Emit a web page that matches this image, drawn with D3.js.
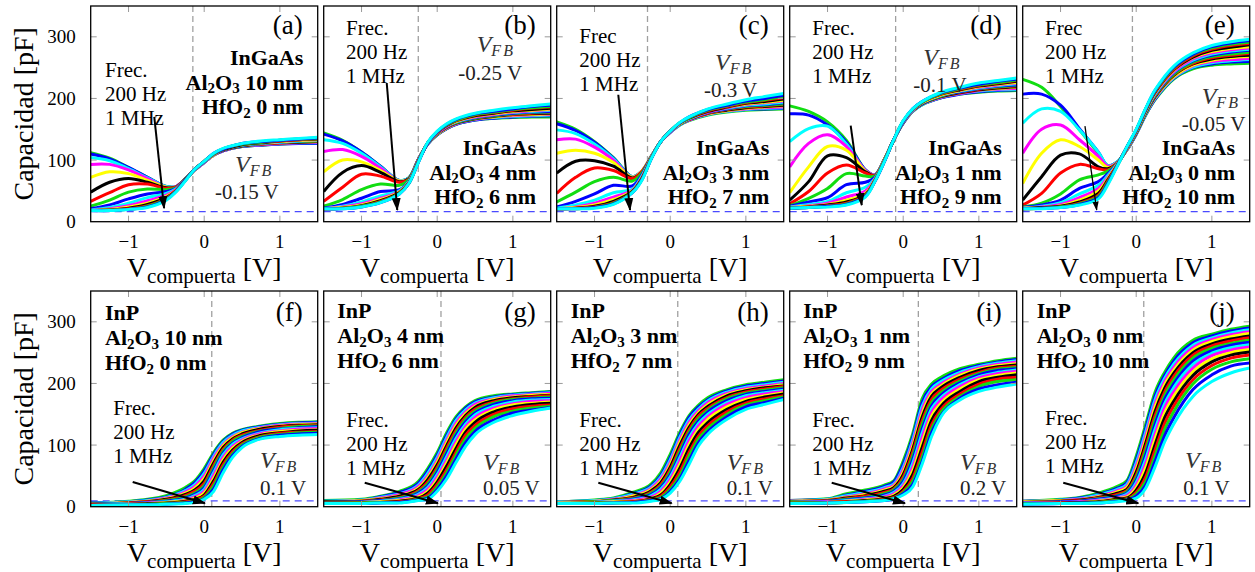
<!DOCTYPE html>
<html>
<head>
<meta charset="utf-8">
<script src="https://cdn.jsdelivr.net/npm/d3@7"></script>
<style>
  body { margin: 0; background: #fff; }
  svg { display: block; font-family: "Liberation Serif", "Times New Roman", serif; }
</style>
</head>
<body>
<svg id="chart" width="1255" height="572"></svg>
<script>
// Gate-voltage sample points (V) for the two substrate rows
const vTop = [-1.5, -1.25, -1, -0.75, -0.5, -0.375, -0.25, -0.125, 0, 0.125, 0.25, 0.5, 0.75, 1, 1.25, 1.5];
const vBottom = [-1.5, -1, -0.75, -0.5, -0.25, -0.125, 0, 0.125, 0.25, 0.375, 0.5, 0.75, 1, 1.25, 1.5];

// Sweep colours, one per frequency, cycling from 200 Hz up to 1 MHz
const sweepColors = ["#11dd11", "#0000ff", "#00ffff", "#ff00ff", "#ffff00", "#000000", "#ff0000"];

// Capacitance (pF), one row per measurement frequency (200 Hz first)
const capA = [
  [112,103,88,72,57,57,69,84,96,108,115,122,124,126,127,128],
  [110,102,88,72,57,57,69,84,96,108,115,122,124,126,127,127],
  [104,99,86,71,57,57,69,84,96,108,115,123,125,127,128,128],
  [93,93,84,70,56,57,69,84,96,108,115,123,125,127,128,129],
  [72,81,78,67,56,56,69,84,97,108,116,123,126,128,129,130],
  [48,64,70,64,55,56,69,85,97,109,116,123,126,128,129,130],
  [33,47,60,61,54,56,69,85,97,109,116,124,126,128,130,131],
  [25,35,48,53,52,55,69,85,97,109,116,124,127,129,130,131],
  [21,27,37,45,49,54,69,85,97,109,116,124,127,129,131,132],
  [19,23,30,39,46,53,68,85,97,109,117,124,127,129,131,132],
  [18,21,26,34,43,52,68,85,97,109,117,125,128,130,132,133],
  [18,20,24,30,41,51,68,85,98,110,117,125,128,130,132,133],
  [18,19,22,28,39,50,68,85,98,110,117,125,128,131,133,134],
  [18,19,21,26,38,50,67,85,98,110,118,126,129,131,133,135],
  [18,19,20,25,37,49,67,85,98,110,118,126,129,132,134,135],
  [18,18,20,24,36,49,67,85,98,111,118,127,130,132,134,136],
  [18,18,20,23,35,48,66,85,98,111,119,127,131,133,135,137]
];
const capB = [
  [144,132,113,90,67,71,101,126,141,151,158,165,168,169,170,170],
  [142,131,113,90,67,71,101,126,141,151,158,165,168,170,171,172],
  [133,127,111,89,67,71,101,126,142,152,159,166,169,171,172,173],
  [114,117,106,87,66,70,101,126,142,152,159,166,170,172,173,174],
  [81,100,97,83,66,70,101,127,142,152,160,167,170,173,174,175],
  [49,80,91,80,65,70,100,127,143,153,160,167,171,174,175,176],
  [33,56,77,74,64,69,100,127,143,153,161,168,172,174,176,177],
  [25,36,52,61,59,68,100,127,143,154,161,168,172,175,177,178],
  [22,28,38,49,52,66,100,127,144,154,162,169,173,176,178,179],
  [21,25,32,42,50,65,99,127,144,155,162,170,174,177,179,181],
  [21,24,29,38,49,64,99,128,144,155,163,170,174,178,180,182],
  [21,23,27,36,48,64,98,128,145,156,163,171,175,179,181,183],
  [21,22,26,34,47,63,98,128,145,156,164,172,176,180,182,184],
  [21,22,25,33,46,63,97,128,145,157,164,173,177,181,184,186],
  [21,22,25,32,46,62,97,128,146,157,165,174,178,182,185,187],
  [21,21,24,31,45,62,96,128,146,158,166,175,179,183,187,189],
  [21,21,24,31,45,62,96,129,147,159,167,176,181,185,188,191]
];
const capC = [
  [162,150,130,104,73,82,106,130,145,157,164,173,178,181,182,183],
  [159,148,129,103,73,82,106,130,145,157,165,174,179,182,183,184],
  [149,143,126,102,73,82,106,130,145,157,165,174,179,182,184,185],
  [133,134,121,100,72,82,106,130,145,158,165,175,180,183,185,186],
  [111,116,111,96,72,82,106,130,146,158,166,175,180,184,186,188],
  [79,98,99,90,71,81,105,130,146,158,166,176,181,185,187,189],
  [46,72,87,83,70,81,105,130,146,158,166,176,182,186,188,190],
  [32,48,65,72,66,79,105,130,146,158,167,177,183,187,189,191],
  [24,33,45,59,58,76,105,130,146,159,167,177,183,188,190,193],
  [22,27,35,47,53,74,104,130,146,159,167,178,184,189,191,194],
  [21,24,30,40,51,72,104,130,146,159,168,178,185,190,193,196],
  [21,23,27,36,50,71,104,130,147,159,168,179,186,191,194,197],
  [21,22,25,33,49,70,103,130,147,160,168,179,186,192,195,199],
  [21,22,24,31,48,69,103,130,147,160,169,180,187,193,197,201],
  [21,21,23,30,48,68,103,130,147,160,169,181,188,194,198,203],
  [21,21,23,29,47,68,102,130,147,160,170,182,189,196,200,205],
  [21,21,22,28,47,67,102,130,147,161,170,183,191,198,203,208]
];
const capD = [
  [188,179,162,132,84,76,101,133,160,179,190,201,207,210,212,213],
  [175,173,157,129,84,76,101,133,160,179,190,201,207,211,213,214],
  [130,151,155,126,83,76,101,133,161,179,190,202,208,212,214,215],
  [89,127,141,122,83,76,101,133,161,180,191,202,208,213,215,216],
  [47,89,122,116,82,75,101,133,161,180,191,203,209,214,216,218],
  [35,65,107,104,81,75,100,133,161,180,191,203,209,214,217,219],
  [29,49,79,92,79,75,100,133,162,180,192,204,210,215,218,220],
  [26,38,54,78,74,74,100,133,162,181,192,204,211,216,219,221],
  [25,32,39,60,64,72,100,133,162,181,192,205,211,216,220,222],
  [24,28,33,47,56,70,99,133,162,181,193,205,212,217,221,224],
  [23,26,30,40,50,69,99,133,162,181,193,206,213,218,222,225],
  [23,25,28,35,46,68,99,133,163,182,193,206,213,219,223,226],
  [22,24,27,32,44,67,98,133,163,182,194,207,214,220,224,228],
  [22,24,26,30,43,66,98,133,163,182,194,207,215,221,225,229],
  [22,23,25,29,42,66,98,133,163,182,194,208,216,222,226,230],
  [22,23,25,28,41,65,97,133,163,183,195,209,217,223,228,231],
  [22,23,24,27,40,65,97,133,164,183,195,210,218,225,229,233]
];
const capE = [
  [231,218,187,149,111,91,97,116,142,173,198,232,248,254,256,257],
  [207,207,189,151,113,91,97,116,142,173,199,233,250,256,259,260],
  [160,183,179,149,113,91,97,117,143,174,200,234,251,258,261,263],
  [111,150,157,133,106,90,96,117,143,175,201,235,253,260,263,265],
  [62,111,133,122,100,88,96,117,144,175,202,236,254,262,266,268],
  [35,73,108,110,89,86,95,118,144,176,203,238,256,264,268,270],
  [27,46,79,93,86,84,95,118,145,177,204,239,257,266,270,273],
  [24,30,45,68,76,82,94,118,145,177,205,240,259,268,272,275],
  [23,27,35,54,65,78,94,119,146,178,206,242,261,270,275,278],
  [22,25,31,45,59,75,94,119,146,179,207,243,262,272,277,280],
  [22,24,28,39,54,72,93,119,147,180,208,244,264,274,279,282],
  [22,23,26,35,50,70,93,120,147,180,209,246,266,276,281,284],
  [21,23,25,32,46,68,92,120,148,181,210,247,267,278,283,287],
  [21,22,24,30,43,66,92,120,148,182,211,248,269,280,286,289],
  [21,22,24,29,41,64,91,121,149,183,212,250,271,282,288,291],
  [21,22,23,28,39,62,91,121,149,183,213,251,272,284,290,294],
  [21,21,23,27,37,60,90,121,150,184,214,253,274,286,292,296]
];
const capF = [
  [6,9,12,18,31,42,62,88,108,119,125,131,135,137,138],
  [6,8,11,16,28,39,58,85,106,118,124,130,134,136,137],
  [5,8,10,15,26,36,54,82,104,116,123,129,133,135,136],
  [5,7,9,14,24,33,50,79,101,114,121,128,132,134,135],
  [5,7,9,13,22,30,46,75,99,112,120,127,131,133,134],
  [4,6,8,12,20,27,42,71,96,110,118,126,130,132,133],
  [4,6,8,11,18,25,38,67,93,108,116,124,129,131,132],
  [4,5,7,10,16,22,34,63,90,106,114,123,127,130,131],
  [4,5,7,9,14,20,31,59,87,103,112,122,126,128,130],
  [3,5,6,8,12,18,28,55,84,101,110,120,125,127,128],
  [3,4,6,7,11,16,25,51,80,98,108,119,123,126,127],
  [3,4,5,7,10,14,22,46,76,95,106,117,122,124,125],
  [3,4,5,6,9,12,19,42,72,92,104,116,120,123,124],
  [3,4,4,5,8,11,17,38,68,89,102,114,119,121,122],
  [2,3,4,5,7,9,15,34,64,86,100,113,117,120,121],
  [2,3,3,4,6,8,13,29,60,83,98,111,116,118,119],
  [2,3,3,4,5,7,12,25,55,80,96,110,114,116,117]
];
const capG = [
  [10,12,17,25,41,62,88,120,146,162,172,180,183,185,187],
  [9,11,16,23,38,58,84,116,143,160,170,178,182,184,186],
  [9,11,15,21,35,54,80,112,140,157,168,177,181,183,185],
  [8,10,14,20,33,50,76,108,136,154,166,175,180,182,184],
  [8,10,13,18,30,47,72,104,132,151,163,174,178,181,182],
  [8,9,12,17,28,44,68,99,128,148,161,172,177,179,181],
  [7,9,11,15,26,40,64,95,124,145,158,170,175,178,180],
  [7,8,10,14,24,37,60,90,120,142,155,168,174,176,178],
  [7,8,10,13,22,34,56,86,116,138,152,166,172,175,176],
  [6,7,9,12,20,31,52,81,111,134,149,163,170,173,174],
  [6,7,8,11,18,28,48,76,106,130,145,160,167,171,172],
  [6,7,8,10,16,25,44,71,101,126,141,157,165,168,170],
  [6,6,7,9,14,22,40,66,95,121,137,154,162,166,168],
  [5,6,7,8,13,19,36,60,89,116,132,150,159,163,165],
  [5,6,7,7,12,16,32,55,84,110,127,146,155,160,163],
  [5,5,6,7,11,14,28,50,78,104,122,141,152,157,161],
  [5,5,6,6,10,12,25,45,72,98,117,137,148,155,160]
];
const capH = [
  [8,11,14,23,37,55,85,120,148,165,177,190,198,202,206],
  [8,10,13,21,34,51,80,116,145,162,174,188,196,200,204],
  [8,10,13,20,32,48,76,112,141,159,172,186,194,198,202],
  [7,9,12,18,30,45,72,108,137,156,169,184,192,196,200],
  [7,9,11,17,28,42,68,104,133,153,166,182,190,194,198],
  [7,8,11,15,26,39,64,99,129,150,163,180,188,193,196],
  [7,8,10,14,24,36,60,94,125,147,160,177,186,191,195],
  [6,8,10,13,22,33,56,89,121,143,157,175,184,189,193],
  [6,7,9,12,20,31,52,84,117,139,154,172,182,187,191],
  [6,7,9,11,18,28,48,79,112,135,150,169,180,185,189],
  [6,7,8,10,16,25,44,74,107,131,146,166,177,183,187],
  [6,6,8,9,14,22,40,68,101,126,142,162,174,180,185],
  [5,6,7,8,13,19,36,62,95,121,137,158,171,178,183],
  [5,6,7,8,12,17,32,56,88,115,132,154,168,175,180],
  [5,6,6,7,11,15,28,50,82,110,127,150,165,172,178],
  [5,5,6,7,10,13,25,45,75,104,122,146,162,169,176],
  [5,5,6,6,9,12,22,41,69,99,118,142,158,166,174]
];
const capI = [
  [10,13,21,27,35,42,74,118,175,199,210,224,231,237,241],
  [10,12,19,25,33,40,69,113,169,195,206,221,229,235,239],
  [9,12,18,23,31,37,64,108,163,191,203,218,227,233,237],
  [9,11,16,21,29,35,60,103,157,187,199,215,225,231,235],
  [9,11,15,20,27,33,56,98,151,183,196,213,223,229,232],
  [8,10,14,18,25,31,52,93,145,179,193,210,221,227,230],
  [8,10,13,17,23,29,48,88,139,174,189,207,218,225,228],
  [8,9,12,15,21,27,44,82,133,169,185,204,216,223,226],
  [7,9,11,14,19,25,41,76,126,164,181,201,214,221,224],
  [7,8,10,13,17,23,37,70,119,159,177,198,211,218,222],
  [7,8,9,12,16,21,34,64,112,153,173,195,209,216,220],
  [6,7,9,11,14,19,31,58,104,147,168,191,206,213,217],
  [6,7,8,10,13,17,28,52,96,140,163,187,203,210,214],
  [6,7,8,9,12,15,25,46,88,133,158,183,199,207,210],
  [6,6,7,9,11,14,23,41,80,126,153,179,195,203,206],
  [5,6,7,8,10,13,21,36,73,120,148,176,191,198,202],
  [5,6,7,8,10,13,19,32,69,114,146,173,187,194,199]
];
const capJ = [
  [9,12,15,22,33,42,82,133,186,218,242,270,280,288,293],
  [9,11,14,20,30,39,76,127,180,213,237,266,277,285,290],
  [8,11,13,19,28,36,71,121,174,208,232,262,274,282,287],
  [8,10,12,17,26,33,66,115,168,203,227,258,271,279,284],
  [8,10,11,16,24,31,61,109,162,198,222,254,268,276,281],
  [7,9,11,15,22,28,56,103,155,192,217,250,264,272,277],
  [7,9,10,14,20,26,51,97,148,186,212,246,261,269,274],
  [7,8,9,13,18,24,47,91,141,180,206,241,257,265,270],
  [6,8,9,12,17,22,43,84,134,174,200,236,253,262,267],
  [6,7,8,11,15,20,39,77,126,167,194,231,249,258,263],
  [6,7,8,10,14,18,35,70,118,160,187,225,245,254,259],
  [5,6,7,9,13,16,31,63,110,152,180,219,240,250,255],
  [5,6,7,8,12,14,27,55,101,144,172,213,235,246,251],
  [5,6,6,7,11,13,23,48,92,135,164,206,229,241,246],
  [5,5,6,7,10,12,20,41,83,125,155,199,223,235,240],
  [4,5,6,6,9,11,17,35,74,115,145,190,214,228,233],
  [4,5,5,6,8,10,14,30,65,105,135,179,203,217,225]
];

// Per-panel stack description and flat-band voltage
const panelTags = ["(a)", "(b)", "(c)", "(d)", "(e)", "(f)", "(g)", "(h)", "(i)", "(j)"];
const substrates = ["InGaAs", "InGaAs", "InGaAs", "InGaAs", "InGaAs", "InP", "InP", "InP", "InP", "InP"];
const al2o3Nm = [10, 4, 3, 1, 0, 10, 4, 3, 1, 0];
const hfo2Nm = [0, 6, 7, 9, 10, 0, 6, 7, 9, 10];
const flatBandV = [-0.15, -0.25, -0.3, -0.1, -0.05, 0.1, 0.05, 0.1, 0.2, 0.1];
const flatBandText = ["-0.15 V", "-0.25 V", "-0.3 V", "-0.1 V", "-0.05 V", "0.1 V", "0.05 V", "0.1 V", "0.2 V", "0.1 V"];
const freqHeads = ["Frec.", "Frec.", "Frec", "Frec.", "Frec", "Frec.", "Frec.", "Frec.", "Frec.", "Frec."];
const freqRange = ["200 Hz", "1 MHz"];
const floorCap = [16.5, 16.5, 16.5, 16.5, 16.5, 9.5, 9.5, 9.5, 9.5, 9.5];
const arrowFrom = [[-0.66,170],[-0.667,225],[-0.686,206],[-0.694,156],[-0.677,155],[-0.945,40],[-0.958,39],[-0.95,39],[-0.945,39],[-0.964,39]];
const arrowTo = [[-0.53,22],[-0.528,19],[-0.531,19],[-0.548,27],[-0.522,19],[0.01,5.5],[0.01,5.5],[0.02,5.5],[0.024,5.5],[0.028,5.5]];
const panelData = [capA, capB, capC, capD, capE, capF, capG, capH, capI, capJ];

const xTicks = [-1, 0, 1];
const yTicks = [0, 100, 200, 300];

// ---- layout (pixels) ----
const W = 227, H = 215.7;
const colLeft = [90.7, 323.7, 556.7, 789.7, 1022.7];
const rowTop = [6, 291];
// text placement inside each panel: [x, firstBaseline]
const freqPos = [[14.3,70.7],[22.3,29],[22.6,37.3],[22.6,29],[22.3,29],[22.6,124],[22.6,135.7],[22.6,135.7],[22.6,135.7],[22.3,134]];
const stackPos = [[212.6,59],[212.3,149],[212.6,149],[212,149],[212.3,149],[14.3,29],[13.6,27.3],[14,27.3],[13.6,27.3],[14,27.3]];
const vfbPos = [[144.3,165.5,124.3,192.5],[153,46,134.6,74],[158.3,64,147.3,91],[133.6,59,123.6,86],[179,98,159,124.5],
                [169.3,177,169.3,204.3],[159.3,178.7,159.3,204.3],[170,178.7,170,204.3],[170.3,178.7,170.3,204.3],[162.3,177,160.6,204.3]];

const svg = d3.select("#chart");
const defs = svg.append("defs");
defs.append("marker").attr("id", "head").attr("viewBox", "0 -5 13 10")
  .attr("refX", 12).attr("refY", 0).attr("markerWidth", 13).attr("markerHeight", 10)
  .attr("markerUnits", "userSpaceOnUse").attr("orient", "auto")
  .append("path").attr("d", "M0,-4.5L13,0L0,4.5Z").attr("fill", "#000");
defs.append("marker").attr("id", "headSmall").attr("viewBox", "0 -5 13 10")
  .attr("refX", 12).attr("refY", 0).attr("markerWidth", 9).attr("markerHeight", 7)
  .attr("markerUnits", "userSpaceOnUse").attr("orient", "auto")
  .append("path").attr("d", "M0,-4.5L13,0L0,4.5Z").attr("fill", "#000");
defs.append("clipPath").attr("id", "plotClip")
  .append("rect").attr("x", 0).attr("y", 0).attr("width", W).attr("height", H);

const x = d3.scaleLinear().domain([-1.5, 1.5]).range([0, W]);
const y = d3.scaleLinear().domain([0, 350]).range([H, 0]);

// text with "_n" numeric subscripts
function richText(sel, str, subSize, shift) {
  const parts = str.split(/(_[0-9]+)/).filter(s => s.length);
  let down = false;
  parts.forEach(p => {
    if (p[0] === "_") {
      sel.append("tspan").attr("dy", down ? 0 : shift).attr("font-size", subSize).text(p.slice(1));
      down = true;
    } else {
      sel.append("tspan").attr("dy", down ? -shift : 0).text(p);
      down = false;
    }
  });
}

panelData.forEach((curves, k) => {
  const row = k < 5 ? 0 : 1, col = k % 5;
  const volts = row === 0 ? vTop : vBottom;
  const g = svg.append("g").attr("transform", `translate(${colLeft[col]},${rowTop[row]})`);
  const plot = g.append("g").attr("clip-path", "url(#plotClip)");

  // flat-band marker and low-frequency floor
  plot.append("line").attr("x1", x(flatBandV[k])).attr("x2", x(flatBandV[k]))
    .attr("y1", 0).attr("y2", H).attr("stroke", "#a0a0a0").attr("stroke-width", 1.3)
    .attr("stroke-dasharray", "6,4");
  plot.append("line").attr("x1", 0).attr("x2", W).attr("y1", y(floorCap[k])).attr("y2", y(floorCap[k]))
    .attr("stroke", "#4a4aff").attr("stroke-width", 1.3).attr("stroke-dasharray", "7,5");

  const curveType = row === 0 ? d3.curveCatmullRom.alpha(0.5) : d3.curveMonotoneX;
  const line = d3.line().x((d, j) => x(volts[j])).y(d => y(d)).curve(curveType);
  plot.selectAll("path.cv").data(curves).join("path").attr("class", "cv")
    .attr("d", line).attr("fill", "none")
    .attr("stroke", (d, i) => sweepColors[i % sweepColors.length])
    .attr("stroke-width", 3).attr("stroke-linejoin", "round");

  // ticks (inside, all four sides)
  const tk = g.append("g").attr("stroke", "#9a9a9a").attr("stroke-width", 1);
  xTicks.forEach(t => {
    tk.append("line").attr("x1", x(t)).attr("x2", x(t)).attr("y1", H).attr("y2", H - 6);
    tk.append("line").attr("x1", x(t)).attr("x2", x(t)).attr("y1", 0).attr("y2", 6);
  });
  yTicks.slice(1).forEach(t => {
    tk.append("line").attr("x1", 0).attr("x2", 6).attr("y1", y(t)).attr("y2", y(t));
    tk.append("line").attr("x1", W - 6).attr("x2", W).attr("y1", y(t)).attr("y2", y(t));
  });

  g.append("rect").attr("width", W).attr("height", H).attr("fill", "none")
    .attr("stroke", "#000").attr("stroke-width", 1.3);

  // tick labels
  xTicks.forEach(t => {
    g.append("text").attr("x", x(t)).attr("y", H + 26.3).attr("text-anchor", "middle")
      .attr("font-size", 19).text(t < 0 ? "\u2212" + Math.abs(t) : String(t));
  });
  if (col === 0) {
    yTicks.forEach(t => {
      g.append("text").attr("x", -15).attr("y", y(t)).attr("dy", "0.35em")
        .attr("text-anchor", "end").attr("font-size", 19).text(t);
    });
    g.append("text").attr("transform", `translate(-58,${H / 2}) rotate(-90)`)
      .attr("text-anchor", "middle").attr("font-size", 28).text("Capacidad [pF]");
  }

  // x-axis title
  const xt = g.append("text").attr("x", W / 2).attr("y", H + 55.3)
    .attr("text-anchor", "middle").attr("font-size", 28);
  xt.append("tspan").text("V");
  xt.append("tspan").attr("font-size", 21).attr("dy", 6).text("compuerta");
  xt.append("tspan").attr("dy", -6).text(" [V]");

  // panel tag
  g.append("text").attr("x", 212).attr("y", row === 0 ? 28 : 30)
    .attr("text-anchor", "end").attr("font-size", 27).text(panelTags[k]);

  // frequency note
  const fp = freqPos[k];
  [freqHeads[k], freqRange[0], freqRange[1]].forEach((s, i) => {
    g.append("text").attr("x", fp[0]).attr("y", fp[1] + i * 24).attr("font-size", 21).text(s);
  });

  // oxide stack
  const sp = stackPos[k];
  const stack = [substrates[k], `Al_2O_3 ${al2o3Nm[k]} nm`, `HfO_2 ${hfo2Nm[k]} nm`];
  stack.forEach((s, i) => {
    const t = g.append("text").attr("x", sp[0]).attr("y", sp[1] + i * (row === 0 ? 24.5 : 25))
      .attr("font-size", 22).attr("font-weight", "bold")
      .attr("text-anchor", row === 0 ? "end" : "start");
    richText(t, s, 15, 3.5);
  });

  // flat-band label
  const vp = vfbPos[k];
  const vt = g.append("text").attr("x", vp[0]).attr("y", vp[1]).attr("font-size", 24)
    .attr("font-style", "italic").attr("fill", "#333");
  vt.append("tspan").text("V");
  vt.append("tspan").attr("font-size", 16).attr("dy", 4).attr("letter-spacing", 2).text("FB");
  g.append("text").attr("x", vp[2]).attr("y", vp[3]).attr("font-size", 21).attr("fill", "#222")
    .text(flatBandText[k]);

  // frequency sweep arrow
  g.append("line")
    .attr("x1", x(arrowFrom[k][0])).attr("y1", y(arrowFrom[k][1]))
    .attr("x2", x(arrowTo[k][0])).attr("y2", y(arrowTo[k][1]))
    .attr("stroke", "#000").attr("stroke-width", k === 4 ? 1.3 : 2)
    .attr("marker-end", k === 4 ? "url(#headSmall)" : "url(#head)");
});
</script>
</body>
</html>
